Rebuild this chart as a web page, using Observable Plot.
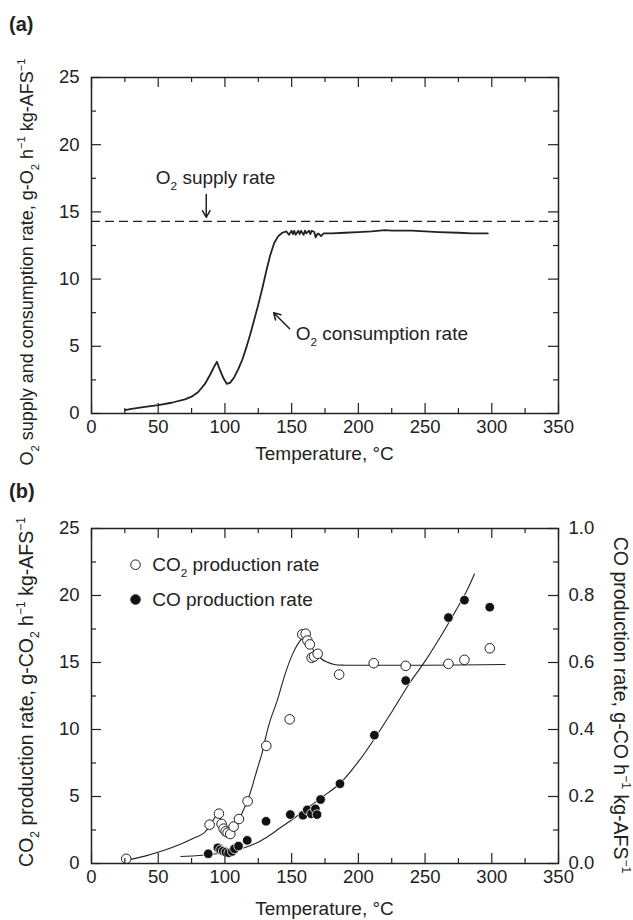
<!DOCTYPE html>
<html><head><meta charset="utf-8">
<script src="https://cdn.jsdelivr.net/npm/d3@7"></script>
<script src="https://cdn.jsdelivr.net/npm/@observablehq/plot@0.6"></script>
<style>
body{margin:0;background:#fff;}
#fig{position:relative;width:633px;height:920px;font-family:"Liberation Sans",Arial,Helvetica,sans-serif;}
#pa,#pb{position:absolute;left:0;}
#pa{top:0}
#pb{top:465px}
svg{overflow:visible}
</style></head>
<body><div id="fig"><div id="pa"></div><div id="pb"></div></div>
<script>
// ---------- ticks ----------
const xTicksMajor = [0, 50, 100, 150, 200, 250, 300, 350];
const xTicksMinor = [25, 75, 125, 175, 225, 275, 325];
const yTicksMajor = [0, 5, 10, 15, 20, 25];
const yTicksMinor = [2.5, 7.5, 12.5, 17.5, 22.5];
const coAxisLabels = ["0.0", "0.2", "0.4", "0.6", "0.8", "1.0"];
const yMax = 25, coAxisMax = 1.0;

// ---------- panel (a) ----------
const o2SupplyRate = 14.3;
const consTemp = [25, 30, 40, 50, 60, 70, 75, 80, 85, 89, 92, 94, 96, 99, 101.5, 104, 107, 110, 113, 116, 119, 122, 125, 128, 131, 134, 137, 140, 143, 146, 148, 150, 151, 152, 153, 155, 156, 157, 159, 160, 161, 163, 164, 165, 167, 168, 169, 170, 172, 174, 180, 190, 200, 210, 220, 225, 240, 260, 275, 285, 297];
const consRate = [0.25, 0.35, 0.5, 0.62, 0.8, 1.05, 1.25, 1.6, 2.2, 2.9, 3.5, 3.85, 3.3, 2.6, 2.2, 2.3, 2.7, 3.3, 4.0, 4.9, 5.9, 7.0, 8.1, 9.3, 10.6, 11.8, 12.7, 13.2, 13.45, 13.55, 13.3, 13.6, 13.35, 13.6, 13.3, 13.6, 13.35, 13.6, 13.3, 13.6, 13.4, 13.6, 13.35, 13.6, 13.5, 13.1, 13.3, 13.4, 13.2, 13.4, 13.4, 13.45, 13.5, 13.55, 13.65, 13.6, 13.6, 13.5, 13.45, 13.4, 13.4];

// ---------- panel (b) ----------
const co2Temp = [26, 88.5, 95.5, 97.5, 99, 100.5, 102, 104, 106.5, 110.5, 117, 131, 148.5, 158, 160.5, 161.8, 163.6, 165, 166.8, 169.5, 185.6, 211.5, 235.5, 267.5, 279.5, 298.5];
const co2Rate = [0.35, 2.9, 3.72, 2.95, 2.6, 2.4, 2.3, 2.2, 2.75, 3.32, 4.64, 8.78, 10.76, 17.1, 17.15, 16.64, 16.35, 15.35, 15.45, 15.65, 14.1, 14.95, 14.75, 14.9, 15.2, 16.06];

const coTemp = [87.5, 94.7, 96.7, 98.7, 100.7, 102.9, 105.5, 107.2, 110.2, 116.7, 130.8, 149, 158.5, 161.7, 164.8, 167.8, 169, 171.7, 186.2, 212, 235.5, 267.5, 279.5, 298.5];
const coRate = [0.029, 0.047, 0.041, 0.037, 0.034, 0.032, 0.036, 0.044, 0.052, 0.069, 0.126, 0.146, 0.144, 0.16, 0.148, 0.163, 0.146, 0.191, 0.238, 0.383, 0.546, 0.734, 0.786, 0.765];

const co2FitTemp = [27, 40, 55, 67, 78, 84, 88, 91, 94, 97, 101, 105, 109, 113, 117, 120, 122, 125, 128, 131, 134, 139, 145, 151, 157, 160, 163, 167, 172, 176, 182, 190, 200, 250, 310];
const co2FitRate = [0.25, 0.55, 1.0, 1.45, 1.95, 2.25, 2.7, 3.2, 3.6, 3.25, 2.65, 2.5, 2.9, 3.8, 4.7, 5.6, 6.3, 7.3, 8.3, 9.6, 10.7, 12.1, 14.1, 15.7, 16.7, 16.95, 16.6, 15.8, 15.3, 15.05, 14.85, 14.8, 14.8, 14.8, 14.85];

const coFitTemp = [67, 78, 86, 95, 104, 112, 122, 132, 142, 152, 162, 172, 186, 200, 212, 225, 238, 250, 262, 272, 281, 287];
const coFitRate = [0.021, 0.023, 0.026, 0.030, 0.036, 0.044, 0.058, 0.080, 0.108, 0.136, 0.166, 0.196, 0.238, 0.304, 0.372, 0.452, 0.536, 0.604, 0.680, 0.748, 0.812, 0.864];

const legendLabels = ["CO₂ production rate", "CO production rate"];

// ---------- helpers ----------
const INK = "#222";
const FONT = '"Liberation Sans", Arial, Helvetica, sans-serif';
const zip = (a, b) => a.map((x, i) => ({x, y: b[i]}));
const coToLeft = v => v * yMax / coAxisMax;

function frameMarks(pw, ph, rightLabels) {
  const M = 10, m = 5, sw = 1.2;
  const marks = [
    Plot.tickX(xTicksMajor, {insetTop: ph - M, stroke: INK, strokeWidth: sw}),
    Plot.tickX(xTicksMajor, {insetBottom: ph - M, stroke: INK, strokeWidth: sw}),
    Plot.tickX(xTicksMinor, {insetTop: ph - m, stroke: INK, strokeWidth: sw}),
    Plot.tickX(xTicksMinor, {insetBottom: ph - m, stroke: INK, strokeWidth: sw}),
    Plot.tickY(yTicksMajor, {insetRight: pw - M, stroke: INK, strokeWidth: sw}),
    Plot.tickY(yTicksMajor, {insetLeft: pw - M, stroke: INK, strokeWidth: sw}),
    Plot.tickY(yTicksMinor, {insetRight: pw - m, stroke: INK, strokeWidth: sw}),
    Plot.tickY(yTicksMinor, {insetLeft: pw - m, stroke: INK, strokeWidth: sw}),
    Plot.frame({stroke: INK, strokeWidth: 1.5}),
    Plot.axisX(xTicksMajor, {tickSize: 0, tickPadding: 6, fill: INK, label: null}),
    Plot.axisY(yTicksMajor, {anchor: "left", tickSize: 0, tickPadding: 12, fill: INK, label: null})
  ];
  if (rightLabels) marks.push(Plot.axisY(yTicksMajor, {anchor: "right", tickSize: 0, tickPadding: 10, fill: INK, label: null,
    tickFormat: d => coAxisLabels[yTicksMajor.indexOf(d)]}));
  return marks;
}

function rich(el, fs) {
  const s = el.textContent;
  if (!/₂|⁻¹/.test(s)) return;
  while (el.firstChild) el.removeChild(el.firstChild);
  const parts = s.split(/(₂|⁻¹)/).filter(p => p);
  let shift = 0;
  for (const p of parts) {
    const t = document.createElementNS("http://www.w3.org/2000/svg", "tspan");
    let target = 0;
    if (p === "₂") { t.textContent = "2"; t.setAttribute("font-size", (fs * 0.62) + "px"); target = fs * 0.32; }
    else if (p === "⁻¹") { t.textContent = "−1"; t.setAttribute("font-size", (fs * 0.62) + "px"); target = -fs * 0.42; }
    else t.textContent = p;
    t.setAttribute("dy", (target - shift) + "px");
    shift = target;
    el.appendChild(t);
  }
}

function addText(svg, txt, x, y, opts = {}) {
  const fs = opts.size || 19;
  const t = d3.select(svg).append("text")
    .attr("transform", `translate(${x},${y}) rotate(${opts.rotate || 0})`)
    .attr("text-anchor", opts.anchor || "middle")
    .attr("font-size", fs + "px")
    .attr("font-weight", opts.weight || "normal")
    .attr("font-family", FONT)
    .attr("fill", INK)
    .text(txt);
  rich(t.node(), fs);
}

const W = 633, ML = 91, MR = 75, PW = W - ML - MR;
const STYLE = {fontFamily: FONT, fontSize: "18.5px", color: INK, background: "white", overflow: "visible"};

// ---------- panel (a) ----------
const HA = 465, MTA = 77, MBA = 52, PHA = HA - MTA - MBA;
const supplyLabel = [{text: "O₂ supply rate", x: 93, y: 17.5}];
const supplyArrow = [{x1: 86, y1: 16.3, x2: 86, y2: 14.6}];
const consLabel = [{text: "O₂ consumption rate", x: 153, y: 5.95}];
const consArrow = [{x1: 148.5, y1: 6.3, x2: 136.5, y2: 7.5}];

const svgA = Plot.plot({
  width: W, height: HA, marginTop: MTA, marginBottom: MBA, marginLeft: ML, marginRight: MR,
  x: {domain: [0, 350]}, y: {domain: [0, yMax]},
  style: STYLE,
  marks: [
    Plot.ruleY([o2SupplyRate], {stroke: INK, strokeWidth: 1.3, strokeDasharray: "9,5"}),
    Plot.line(zip(consTemp, consRate), {x: "x", y: "y", stroke: INK, strokeWidth: 1.8}),
    Plot.arrow(supplyArrow, {x1: "x1", y1: "y1", x2: "x2", y2: "y2", stroke: INK, strokeWidth: 1.5, headLength: 9}),
    Plot.arrow(consArrow, {x1: "x1", y1: "y1", x2: "x2", y2: "y2", stroke: INK, strokeWidth: 1.5, headLength: 9}),
    Plot.text(supplyLabel, {x: "x", y: "y", text: "text", fontSize: 19, textAnchor: "middle", fill: INK}),
    Plot.text(consLabel, {x: "x", y: "y", text: "text", fontSize: 19, textAnchor: "start", fill: INK}),
    ...frameMarks(PW, PHA, false)
  ]
});
svgA.querySelectorAll("text").forEach(el => rich(el, 19));
addText(svgA, "(a)", 9, 31, {anchor: "start", weight: "bold", size: 20});
addText(svgA, "O₂ supply and consumption rate, g-O₂ h⁻¹ kg-AFS⁻¹", 33, 262, {rotate: -90, size: 18});
addText(svgA, "Temperature, °C", ML + PW / 2, 460);
document.getElementById("pa").appendChild(svgA);

// ---------- panel (b) ----------
const HB = 455, MTB = 63, MBB = 57, PHB = HB - MTB - MBB;
const legendX = 33, legendTextX = 45.5, legendY = [22.3, 19.7];
const legendData = legendLabels.map((t, i) => ({text: t, x: legendX, tx: legendTextX, y: legendY[i], filled: i === 1}));

const svgB = Plot.plot({
  width: W, height: HB, marginTop: MTB, marginBottom: MBB, marginLeft: ML, marginRight: MR,
  x: {domain: [0, 350]}, y: {domain: [0, yMax]},
  style: STYLE,
  marks: [
    Plot.line(zip(co2FitTemp, co2FitRate), {x: "x", y: "y", stroke: INK, strokeWidth: 1.1, curve: "catmull-rom"}),
    Plot.line(zip(coFitTemp, coFitRate), {x: "x", y: d => coToLeft(d.y), stroke: INK, strokeWidth: 1.1, curve: "catmull-rom"}),
    Plot.dot(zip(co2Temp, co2Rate), {x: "x", y: "y", r: 4.8, fill: "white", stroke: INK, strokeWidth: 1}),
    Plot.dot(zip(coTemp, coRate), {x: "x", y: d => coToLeft(d.y), r: 4.8, fill: "#111", stroke: "white", strokeWidth: 0.8}),
    Plot.dot(legendData, {x: "x", y: "y", r: 4.8, fill: d => d.filled ? "#111" : "white", stroke: INK, strokeWidth: 1}),
    Plot.text(legendData, {x: "tx", y: "y", text: "text", fontSize: 19, textAnchor: "start", fill: INK}),
    ...frameMarks(PW, PHB, true)
  ]
});
svgB.querySelectorAll("text").forEach(el => rich(el, 19));
addText(svgB, "(b)", 9, 33, {anchor: "start", weight: "bold", size: 20});
addText(svgB, "CO₂ production rate, g-CO₂ h⁻¹ kg-AFS⁻¹", 33, 227, {rotate: -90, size: 19.5});
addText(svgB, "CO production rate, g-CO h⁻¹ kg-AFS⁻¹", 614, 240, {rotate: 90, size: 19.5});
addText(svgB, "Temperature, °C", ML + PW / 2, 450);
document.getElementById("pb").appendChild(svgB);
</script>
</body></html>
